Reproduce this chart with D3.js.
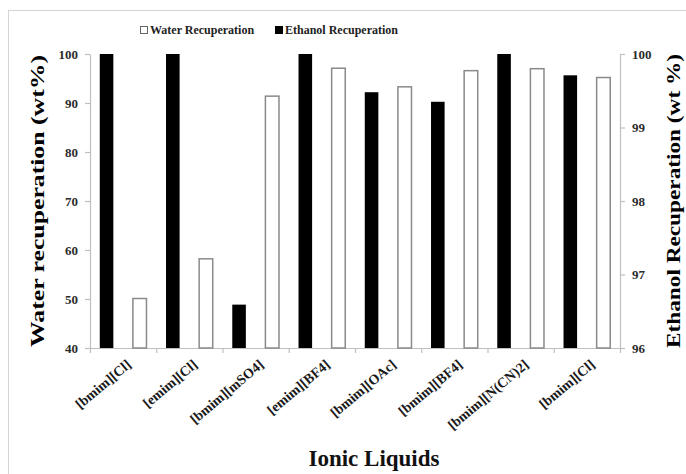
<!DOCTYPE html>
<html>
<head>
<meta charset="utf-8">
<script src="https://cdn.jsdelivr.net/npm/d3@7/dist/d3.min.js"></script>
<style>
  html, body { margin: 0; padding: 0; background: #fff; }
  svg { display: block; }
  text { font-family: "Liberation Serif", "Times New Roman", serif; font-weight: bold; }
</style>
</head>
<body>
<script>
const categories = ["[bmim][Cl]", "[emim][Cl]", "[bmim][mSO4]", "[emim][BF4]", "[bmim][OAc]", "[bmim][BF4]", "[bmim][N(CN)2]", "[bmim][Cl]"];
const ethanolRecuperation = [100, 100, 96.59, 100, 99.48, 99.35, 100, 99.71];
const waterRecuperation = [50.1, 58.2, 91.4, 97.1, 93.3, 96.6, 97.0, 95.2];
const leftTicks = [40, 50, 60, 70, 80, 90, 100];
const rightTicks = [96, 97, 98, 99, 100];
const seriesNames = ["Ethanol Recuperation", "Water Recuperation"];

const W = 686, H = 474;
const x0 = 90, x1 = 620, yTop = 54, yBot = 348;

const svg = d3.select("body").append("svg").attr("width", W).attr("height", H);

svg.append("rect").attr("x", 8.5).attr("y", 10.5).attr("width", 720).attr("height", 520)
  .attr("fill", "none").attr("stroke", "#d4d4d4").attr("stroke-width", 1);

const idx = categories.map((d, i) => i);
const xBand = d3.scaleBand().domain(idx).range([x0, x1]).paddingInner(0).paddingOuter(0);
const xInner = d3.scaleBand().domain(seriesNames).range([0, xBand.bandwidth()]).paddingInner(0.59).paddingOuter(0.295);
const yL = d3.scaleLinear().domain([40, 100]).range([yBot, yTop]);
const yR = d3.scaleLinear().domain([96, 100]).range([yBot, yTop]);
const xLin = d3.scaleLinear().domain([0, categories.length]).range([x0, x1]);

const axisColor = "#bfbfbf";
const tickTextColor = "#2b2b2b";

const gL = svg.append("g").attr("transform", `translate(${x0},0)`)
  .call(d3.axisLeft(yL).tickValues(leftTicks).tickFormat(d3.format("d")).tickSize(5).tickPadding(7).tickSizeOuter(0));
const gR = svg.append("g").attr("transform", `translate(${x1},0)`)
  .call(d3.axisRight(yR).tickValues(rightTicks).tickFormat(d3.format("d")).tickSize(5).tickPadding(7).tickSizeOuter(0));
const gB = svg.append("g").attr("transform", `translate(0,${yBot})`)
  .call(d3.axisBottom(xLin).tickValues(d3.range(0, categories.length + 1)).tickSize(5).tickFormat("").tickSizeOuter(0));

[gL, gR, gB].forEach(g => {
  g.selectAll("path.domain").attr("stroke", axisColor).attr("stroke-width", 1.2);
  g.selectAll(".tick line").attr("stroke", axisColor).attr("stroke-width", 1.2);
  g.selectAll(".tick text").attr("fill", tickTextColor).style("font-size", "13px")
    .style("font-family", "'Liberation Serif', 'Times New Roman', serif").style("font-weight", "bold");
});

const bars = svg.append("g");
bars.selectAll("rect.eth").data(idx).enter().append("rect")
  .attr("class", "eth")
  .attr("x", i => xBand(i) + xInner("Ethanol Recuperation"))
  .attr("width", xInner.bandwidth())
  .attr("y", i => yR(ethanolRecuperation[i]))
  .attr("height", i => yBot - yR(ethanolRecuperation[i]))
  .attr("fill", "#000");
bars.selectAll("rect.wat").data(idx).enter().append("rect")
  .attr("class", "wat")
  .attr("x", i => xBand(i) + xInner("Water Recuperation"))
  .attr("width", xInner.bandwidth())
  .attr("y", i => yL(waterRecuperation[i]))
  .attr("height", i => yBot - yL(waterRecuperation[i]))
  .attr("fill", "#fff").attr("stroke", "#8a8a8a").attr("stroke-width", 1.5);

// category labels: rotated -40deg, right end of each label near its category centre
const angle = 40, rad = angle * Math.PI / 180;
idx.forEach(i => {
  const t = svg.append("text")
    .attr("text-anchor", "middle")
    .attr("fill", "#1a1a1a")
    .style("font-size", "14px")
    .text(categories[i]);
  const len = t.node().getComputedTextLength();
  const ax = xBand(i) + xBand.bandwidth() / 2 + 9, ay = yBot + 18;
  const cx = ax - (len / 2) * Math.cos(rad), cy = ay + (len / 2) * Math.sin(rad);
  t.attr("transform", `translate(${cx.toFixed(2)},${cy.toFixed(2)}) rotate(${-angle})`);
});

svg.append("text")
  .attr("transform", `translate(44,${(yTop + yBot) / 2}) rotate(-90)`)
  .attr("text-anchor", "middle")
  .attr("textLength", 292).attr("lengthAdjust", "spacingAndGlyphs")
  .style("font-size", "19px").attr("fill", "#000")
  .text("Water recuperation (wt%)");

svg.append("text")
  .attr("transform", `translate(680,${(yTop + yBot) / 2}) rotate(-90)`)
  .attr("text-anchor", "middle")
  .attr("textLength", 294).attr("lengthAdjust", "spacingAndGlyphs")
  .style("font-size", "19px").attr("fill", "#000")
  .text("Ethanol Recuperation (wt %)");

svg.append("text")
  .attr("x", 374).attr("y", 466)
  .attr("text-anchor", "middle")
  .style("font-size", "23px").attr("fill", "#111")
  .text("Ionic Liquids");

const legend = svg.append("g");
const legendItems = [
  { name: "Water Recuperation", x: 140, fill: "#fff", stroke: "#666" },
  { name: "Ethanol Recuperation", x: 275, fill: "#000", stroke: "#000" }
];
legendItems.forEach(it => {
  legend.append("rect").attr("x", it.x + 0.5).attr("y", 26.5).attr("width", 7).attr("height", 7)
    .attr("fill", it.fill).attr("stroke", it.stroke).attr("stroke-width", 1);
  legend.append("text").attr("x", it.x + 10).attr("y", 34)
    .style("font-size", "12px").attr("fill", "#222").text(it.name);
});
</script>
</body>
</html>
